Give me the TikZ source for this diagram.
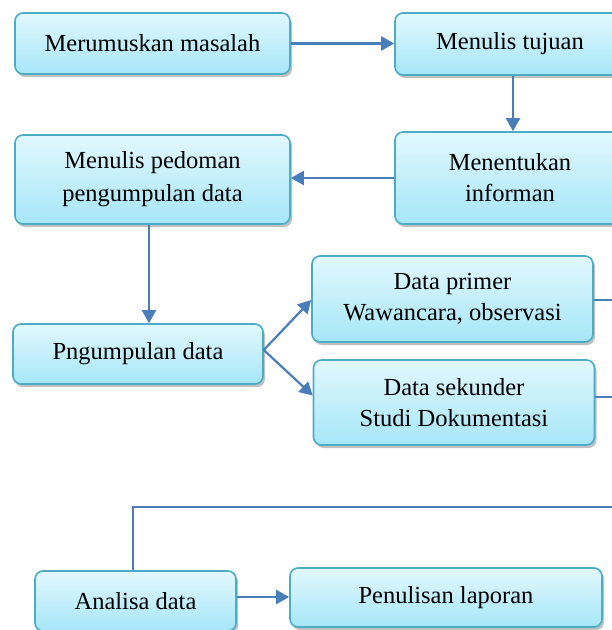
\documentclass[tikz,border=0pt]{standalone}
\usepackage{fontspec}
\setmainfont{Liberation Serif}
\usetikzlibrary{shadows,arrows.meta}
\definecolor{boxtop}{RGB}{226,248,254}
\definecolor{boxbot}{RGB}{166,230,248}
\definecolor{boxline}{RGB}{75,172,198}
\definecolor{arrblue}{RGB}{74,126,187}
\tikzset{
  box/.style={draw=boxline, line width=1.6pt, rounded corners=8pt,
    top color=boxtop, bottom color=boxbot, align=center,
    font=\fontsize{24.5}{31}\selectfont, inner sep=0pt,
    drop shadow={shadow xshift=2pt, shadow yshift=-3pt, opacity=0.35, fill=black!70}},
  arr/.style={draw=arrblue, line width=2.2pt, -{Triangle[length=13pt,width=14pt]}},
  ln/.style={draw=arrblue, line width=1.9pt}
}
\begin{document}
\begin{tikzpicture}[x=1pt,y=-1pt]
\useasboundingbox (0,0) rectangle (612,630);
\clip (0,0) rectangle (612,630);
\node[box, minimum width=275pt, minimum height=61pt] (m1) at (152.5,43.5) {Merumuskan masalah};
\node[box, minimum width=230pt, minimum height=62pt] (m2) at (510,44) {Menulis tujuan};
\node[box, minimum width=230pt, minimum height=92pt] (m3) at (510,178) {Menentukan\\informan};
\node[box, minimum width=275pt, minimum height=89pt] (m4) at (152.5,179.5) {Menulis pedoman\\[2pt]pengumpulan data};
\node[box, minimum width=250pt, minimum height=60pt] (m5) at (138,354) {Pngumpulan data};
\node[box, minimum width=281pt, minimum height=86pt] (m6) at (452.5,299) {Data primer\\Wawancara, observasi};
\node[box, minimum width=281pt, minimum height=85pt] (m7) at (454,402.5) {Data sekunder\\Studi Dokumentasi};
\node[box, minimum width=201pt, minimum height=60pt] (m8) at (135.5,601) {Analisa data};
\node[box, minimum width=312pt, minimum height=59pt] (m9) at (446,597.5) {Penulisan laporan};
\coordinate (r1) at (640,300);
\coordinate (r2) at (640,397);
\coordinate (r3) at (640,507);
\draw[arr] (m1.east) -- (m1.east -| m2.west);
\draw[arr] ([xshift=3pt]m2.south) -- ([xshift=3pt]m3.north);
\draw[arr] (m3.west) -- (m3.west -| m4.east);
\draw[arr] ([xshift=-3.5pt]m4.south) -- ([xshift=-3.5pt]m4.south |- m5.north);
\draw[arr] ([yshift=4pt]m5.east) -- ([yshift=-1pt]m6.west);
\draw[arr] ([yshift=4pt]m5.east) -- ([yshift=7pt]m7.west);
\draw[ln] (m6.east |- r1) -- (r1);
\draw[ln] (m7.east |- r2) -- (r2);
\draw[ln] ([xshift=-2.5pt]m8.north) |- (r3);
\draw[arr] ([yshift=4pt]m8.east) -- ([yshift=4pt]m8.east -| m9.west);
\end{tikzpicture}
\end{document}
